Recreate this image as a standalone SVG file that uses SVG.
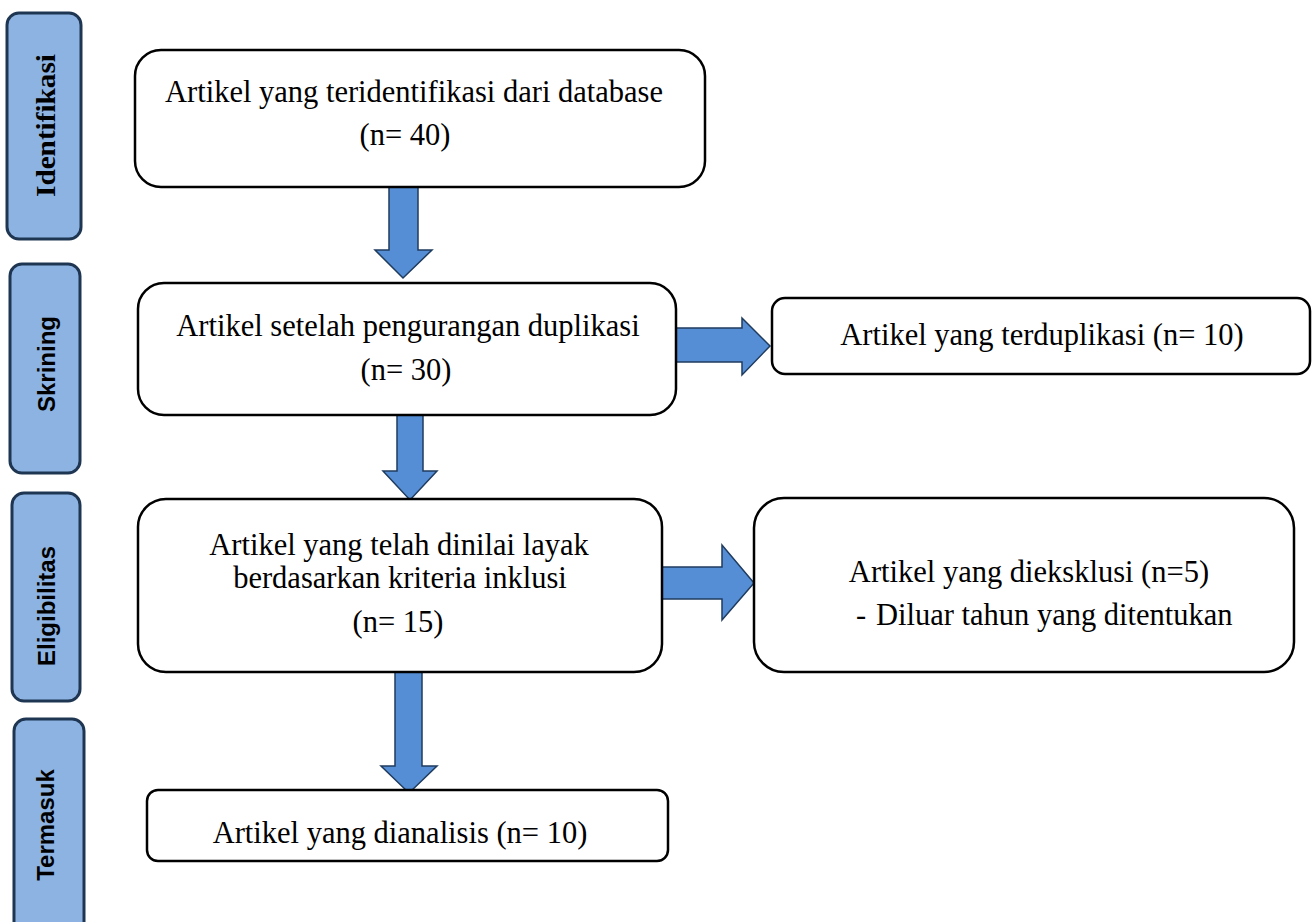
<svg xmlns="http://www.w3.org/2000/svg" width="1316" height="922" viewBox="0 0 1316 922">
<style>
.side{fill:#8db3e2;stroke:#1f3652;stroke-width:3}
.box{fill:#ffffff;stroke:#000000;stroke-width:2.5}
.arr{fill:#558ed5;stroke:#1f3b5e;stroke-width:1.5;stroke-linejoin:miter}
.t{font-family:"Liberation Serif","Times New Roman",serif;font-size:30.5px;fill:#000}
.ls{font-family:"Liberation Sans",Arial,sans-serif;font-size:24px;font-weight:bold;fill:#000}
.lr{font-family:"Liberation Serif","Times New Roman",serif;font-size:27px;font-weight:bold;fill:#000}
</style>
<rect width="1316" height="922" fill="#ffffff"/>
<g id="stage-identifikasi">
<rect class="side" x="7" y="13" width="74" height="226" rx="12"/>
<text class="lr" transform="translate(55,125.5) rotate(-90)" text-anchor="middle" textLength="143" lengthAdjust="spacingAndGlyphs">Identifikasi</text>
</g>
<g id="stage-skrining">
<rect class="side" x="10" y="264" width="70" height="209" rx="12"/>
<text class="ls" transform="translate(55,364) rotate(-90)" text-anchor="middle">Skrining</text>
</g>
<g id="stage-eligibilitas">
<rect class="side" x="12" y="493" width="68" height="208" rx="12"/>
<text class="ls" transform="translate(55,606) rotate(-90)" text-anchor="middle">Eligibilitas</text>
</g>
<g id="stage-termasuk">
<rect class="side" x="14" y="719" width="70" height="230" rx="12"/>
<text class="ls" transform="translate(54,825) rotate(-90)" text-anchor="middle">Termasuk</text>
</g>
<g id="connectors">
<polygon class="arr" points="389,184 418,184 418,250 432,250 403,278 375,250 389,250"/>
<polygon class="arr" points="397,415 423,415 423,471 437,471 410,500 383,471 397,471"/>
<polygon class="arr" points="676,328 742,328 742,318 770,346 742,375 742,362 676,362"/>
<polygon class="arr" points="662,567 722,567 722,545 754,583 722,620 722,599 662,599"/>
<polygon class="arr" points="395,672 422,672 422,766 437,766 409,793 381,766 395,766"/>
</g>
<g id="box-identified">
<rect class="box" x="135" y="50" width="570" height="137" rx="26"/>
<text class="t" x="414" y="102" text-anchor="middle">Artikel yang teridentifikasi dari database</text>
<text class="t" x="405" y="145" text-anchor="middle">(n= 40)</text>
</g>
<g id="box-dedup">
<rect class="box" x="138" y="283" width="538" height="132" rx="26"/>
<text class="t" x="408" y="336" text-anchor="middle">Artikel setelah pengurangan duplikasi</text>
<text class="t" x="406" y="380" text-anchor="middle">(n= 30)</text>
</g>
<g id="box-duplicates">
<rect class="box" x="772" y="298" width="538" height="76" rx="13"/>
<text class="t" x="1042" y="345" text-anchor="middle">Artikel yang terduplikasi (n= 10)</text>
</g>
<g id="box-eligible">
<rect class="box" x="138" y="499" width="524" height="173" rx="28"/>
<text class="t" x="399" y="555" text-anchor="middle">Artikel yang telah dinilai layak</text>
<text class="t" x="400" y="588" text-anchor="middle">berdasarkan kriteria inklusi</text>
<text class="t" x="398" y="632" text-anchor="middle">(n= 15)</text>
</g>
<g id="box-excluded">
<rect class="box" x="754" y="498" width="540" height="174" rx="30"/>
<text class="t" x="1029" y="582" text-anchor="middle">Artikel yang dieksklusi (n=5)</text>
<text class="t" y="625"><tspan x="856">-</tspan><tspan x="876">Diluar tahun yang ditentukan</tspan></text>
</g>
<g id="box-analyzed">
<rect class="box" x="147" y="790" width="521" height="71" rx="11"/>
<text class="t" x="400" y="843" text-anchor="middle">Artikel yang dianalisis (n= 10)</text>
</g>
</svg>
